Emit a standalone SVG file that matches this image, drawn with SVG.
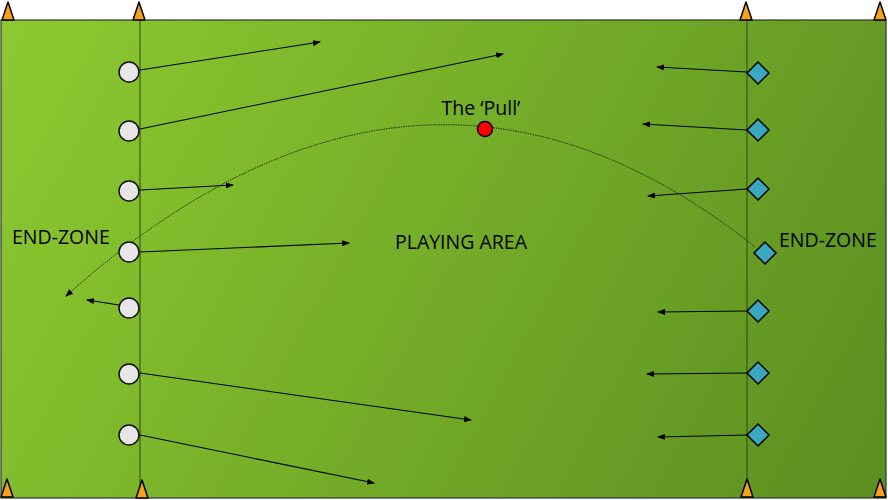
<svg xmlns="http://www.w3.org/2000/svg" width="888" height="500" viewBox="0 0 888 500">
<style>
.cone{fill:#F7A11A;stroke:#000;stroke-width:1.5;stroke-linejoin:round}
.p{fill:#E6E6E6;stroke:#111;stroke-width:1.5}
.d{fill:#3AA8C1;stroke:#000;stroke-width:1.5;stroke-linejoin:miter}
.run{stroke:#000;stroke-width:1.1;fill:none;marker-end:url(#ah)}
.lbl{font-family:"Open Sans","Liberation Sans",sans-serif;font-size:19.5px;fill:#000}
</style>
<defs>
<linearGradient id="g" gradientUnits="userSpaceOnUse" x1="0" y1="20" x2="888" y2="500">
<stop offset="0" stop-color="#8DCA30"/>
<stop offset="1" stop-color="#5A8E20"/>
</linearGradient>
<marker id="ah" markerWidth="8" markerHeight="6" refX="7" refY="3" orient="auto" markerUnits="userSpaceOnUse">
<path d="M0,0 L8,3 L0,6 Z" fill="#000"/>
</marker>
</defs>
<g id="field">
<rect x="1" y="20" width="885" height="478" fill="url(#g)" stroke="#333" stroke-width="1.2"/>
<line x1="140" y1="20" x2="140" y2="498" stroke="#2A4A10" stroke-width="1"/>
<line x1="747" y1="20" x2="747" y2="498" stroke="#2A4A10" stroke-width="1"/>
</g>
<g id="labels">
<text class="lbl" x="12" y="244">END-ZONE</text>
<text class="lbl" x="779" y="247">END-ZONE</text>
<text class="lbl" x="461" y="249" text-anchor="middle">PLAYING AREA</text>
<text class="lbl" x="481" y="115" text-anchor="middle">The ‘Pull’</text>
</g>
<g id="connectors">
<path d="M755,247 Q420,-20 66,296" fill="none" stroke="#1a2a08" stroke-width="1" stroke-dasharray="1.5,1" marker-end="url(#ah)"/>
<line class="run" x1="140" y1="70" x2="320" y2="42"/>
<line class="run" x1="140" y1="129" x2="503" y2="54"/>
<line class="run" x1="140" y1="190" x2="233" y2="185"/>
<line class="run" x1="140" y1="252" x2="349" y2="243"/>
<line class="run" x1="119" y1="305" x2="87" y2="300"/>
<line class="run" x1="140" y1="373" x2="471" y2="420"/>
<line class="run" x1="140" y1="435" x2="374" y2="483"/>
<line class="run" x1="747" y1="72" x2="657" y2="67"/>
<line class="run" x1="747" y1="130" x2="643" y2="124"/>
<line class="run" x1="747" y1="189" x2="648" y2="196"/>
<line class="run" x1="747" y1="311" x2="658" y2="312"/>
<line class="run" x1="747" y1="373" x2="647" y2="374"/>
<line class="run" x1="747" y1="435" x2="658" y2="437"/>
</g>
<g id="cones">
<polygon class="cone" points="8,2 14,20 2,20"/>
<polygon class="cone" points="139,2 145,20 133,20"/>
<polygon class="cone" points="746,2 752,20 740,20"/>
<polygon class="cone" points="880,2 886,20 874,20"/>
<polygon class="cone" points="7,479 13,497 1,497"/>
<polygon class="cone" points="142,480 148,498 136,498"/>
<polygon class="cone" points="747,479 753,497 741,497"/>
<polygon class="cone" points="880,479 886,497 874,497"/>
</g>
<g id="receivers">
<circle class="p" cx="129" cy="72" r="10"/>
<circle class="p" cx="129" cy="131" r="10"/>
<circle class="p" cx="129" cy="191" r="10"/>
<circle class="p" cx="129" cy="252" r="10"/>
<circle class="p" cx="129" cy="308" r="10"/>
<circle class="p" cx="129" cy="374" r="10"/>
<circle class="p" cx="129" cy="435" r="10"/>
</g>
<g id="pullers">
<polygon class="d" points="758,62 769,73 758,84 747,73"/>
<polygon class="d" points="758,119 769,130 758,141 747,130"/>
<polygon class="d" points="758,178 769,189 758,200 747,189"/>
<polygon class="d" points="765,242 776,253 765,264 754,253"/>
<polygon class="d" points="758,300 769,311 758,322 747,311"/>
<polygon class="d" points="758,362 769,373 758,384 747,373"/>
<polygon class="d" points="758,424 769,435 758,446 747,435"/>
</g>
<g id="pull-disc">
<circle cx="485" cy="129" r="7.5" fill="#FF0000" stroke="#000" stroke-width="1.5"/>
</g>
</svg>
